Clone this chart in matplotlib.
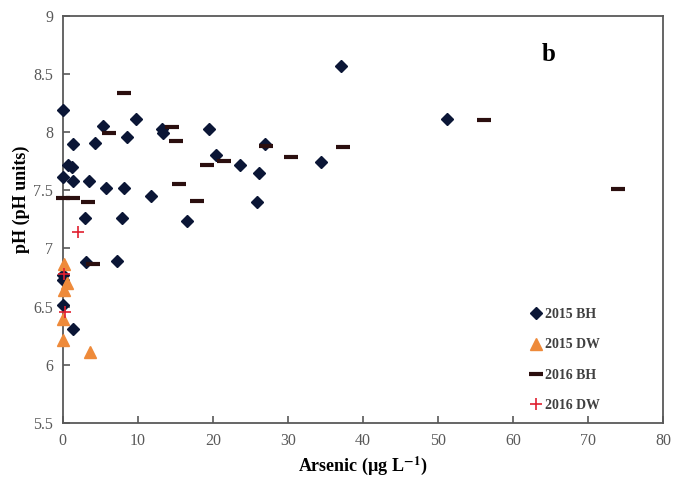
import matplotlib
matplotlib.use("Agg")
import matplotlib.pyplot as plt

plt.rcParams['font.family'] = ['Liberation Serif', 'DejaVu Serif']
plt.rcParams['mathtext.fontset'] = 'stix'

# 2015 boreholes
bh15_as = [0.1, 0.0, 0.75, 1.2, 1.4, 1.4, 3.5, 4.3, 5.4, 5.8, 3.0, 7.9, 8.2, 8.6, 9.8,
           11.8, 13.2, 13.4, 16.5, 19.5, 20.4, 23.6, 26.2, 25.9, 27.0, 34.4, 37.1, 51.2,
           3.1, 7.2, 0.0, 0.0, 0.0, 1.4]
bh15_ph = [8.19, 7.61, 7.72, 7.70, 7.90, 7.58, 7.58, 7.91, 8.05, 7.52, 7.26, 7.26, 7.52, 7.96, 8.11,
           7.45, 8.03, 7.99, 7.24, 8.03, 7.80, 7.72, 7.65, 7.40, 7.90, 7.74, 8.57, 8.11,
           6.88, 6.89, 6.77, 6.73, 6.51, 6.31]

# 2015 dug wells
dw15_as = [0.2, 0.6, 0.2, 0.1, 0.0, 3.7]
dw15_ph = [6.87, 6.70, 6.64, 6.39, 6.21, 6.11]

# 2016 boreholes
bh16_as = [0.1, 1.4, 3.4, 8.2, 6.1, 14.5, 15.1, 15.5, 17.9, 19.2, 21.5, 27.1, 30.4, 37.3,
           56.1, 74.0, 4.0]
bh16_ph = [7.43, 7.43, 7.40, 8.34, 7.99, 8.04, 7.92, 7.55, 7.41, 7.72, 7.75, 7.88, 7.79, 7.87,
           8.10, 7.51, 6.87]

# 2016 dug wells
dw16_as = [2.1, 0.2, 0.3]
dw16_ph = [7.14, 6.78, 6.45]

fig = plt.figure(figsize=(6.76, 4.82), dpi=100)
ax = fig.add_axes([0.0928, 0.1224, 0.888, 0.845])

ax.plot(bh15_as, bh15_ph, linestyle='none', marker='D', markersize=6,
        color='#0b1636', markeredgecolor='#0b1636', label='2015 BH', zorder=3, clip_on=False)
ax.plot(dw15_as, dw15_ph, linestyle='none', marker='^', markersize=9,
        color='#ee8a3a', markeredgecolor='#ee8a3a', label='2015 DW', zorder=4, clip_on=False)
ax.plot(bh16_as, bh16_ph, linestyle='none', marker='_', markersize=10, markeredgewidth=3,
        color='#2b0f0f', label='2016 BH', zorder=3, clip_on=False)
ax.plot(dw16_as, dw16_ph, linestyle='none', marker='+', markersize=9, markeredgewidth=1.2,
        color='#e02030', label='2016 DW', zorder=5, clip_on=False)

ax.set_xlim(0, 80)
ax.set_ylim(5.5, 9)
ax.set_xticks(range(0, 81, 10))
ax.set_yticks([5.5, 6, 6.5, 7, 7.5, 8, 8.5, 9])
ax.set_yticklabels(['5.5', '6', '6.5', '7', '7.5', '8', '8.5', '9'])

for s in ax.spines.values():
    s.set_color('#595959')
    s.set_linewidth(1.3)
ax.tick_params(direction='in', length=5, width=1.2, color='#595959',
               labelcolor='#595959', labelsize=11.5, pad=7)

ax.set_xlabel('Arsenic (µg L$^{\\mathbf{-1}}$)', fontsize=13, fontweight='bold', labelpad=4)
ax.set_ylabel('pH (pH units)', fontsize=13, fontweight='bold')
ax.yaxis.set_label_coords(-0.055, 0.548)

ax.text(0.81, 0.905, 'b', transform=ax.transAxes, fontsize=18, fontweight='bold',
        ha='center', va='center')

leg = ax.legend(loc='lower left', bbox_to_anchor=(0.759, -0.004), frameon=False,
                handlelength=0.8, handletextpad=0.2, labelspacing=1.25, borderpad=0.4,
                prop={'family': 'Liberation Serif', 'weight': 'bold', 'size': 10})
for t in leg.get_texts():
    t.set_color('#404040')

fig.savefig('out.png', dpi=100)
